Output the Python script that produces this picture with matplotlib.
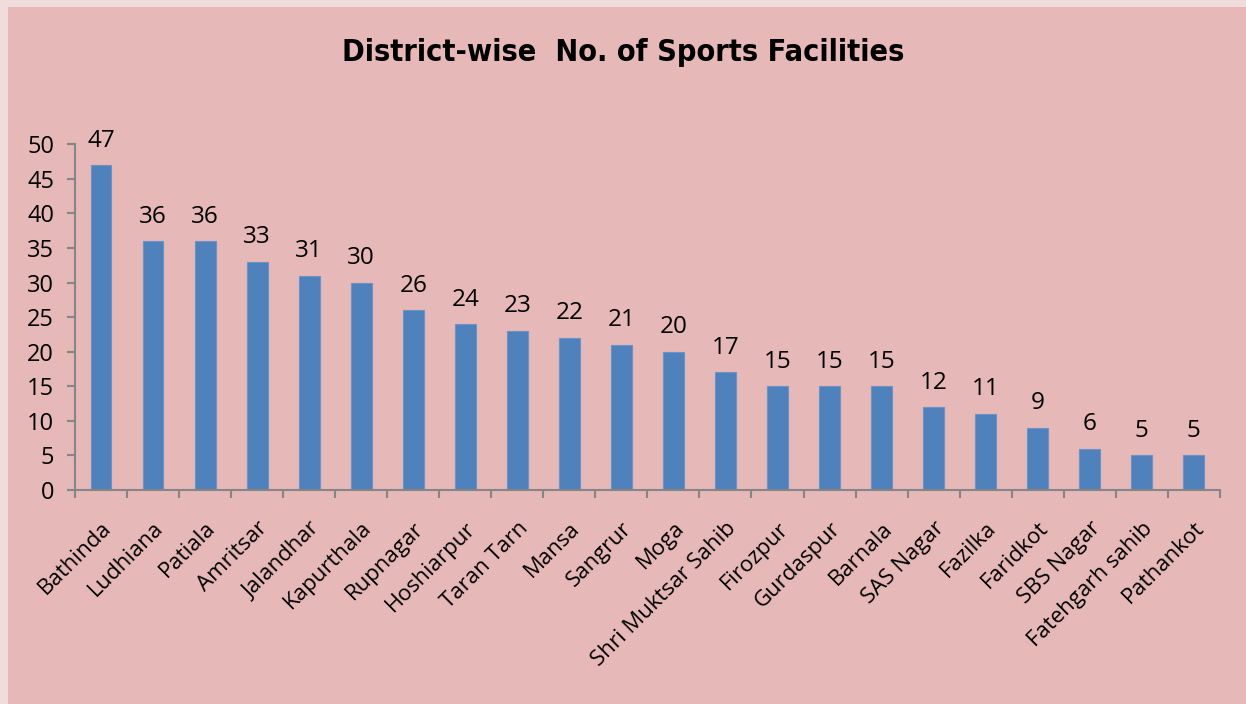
import matplotlib.pyplot as plt
import matplotlib.patches as mpatches

districts = ["Bathinda", "Ludhiana", "Patiala", "Amritsar", "Jalandhar", "Kapurthala",
             "Rupnagar", "Hoshiarpur", "Taran Tarn", "Mansa", "Sangrur", "Moga",
             "Shri Muktsar Sahib", "Firozpur", "Gurdaspur", "Barnala", "SAS Nagar",
             "Fazilka", "Faridkot", "SBS Nagar", "Fatehgarh sahib", "Pathankot"]
facilities = [47, 36, 36, 33, 31, 30, 26, 24, 23, 22, 21, 20, 17, 15, 15, 15, 12, 11, 9, 6, 5, 5]
y_ticks = [0, 5, 10, 15, 20, 25, 30, 35, 40, 45, 50]

plt.rcParams['font.family'] = ['Open Sans', 'DejaVu Sans']

fig = plt.figure(figsize=(12.46, 7.04), dpi=100)
fig.patch.set_facecolor('#f0dcdc')
# inner panel (light border shows on left/top only)
fig.patches.append(mpatches.Rectangle((8 / 1246, 0), 1, 1 - 7 / 704, transform=fig.transFigure,
                                      facecolor='#e6b8b8', edgecolor='none', zorder=-5))

ax = fig.add_axes([0.0602, 0.304, 0.9188, 0.491])
ax.set_facecolor('none')

x = list(range(len(districts)))
bars = ax.bar(x, facilities, width=0.4, color='#4f81bd', edgecolor='#6a93c6', linewidth=0.8)
for xi, v in zip(x, facilities):
    ax.annotate(str(v), (xi, v), xytext=(0, 9), textcoords='offset points',
                ha='center', va='bottom', fontsize=17.5)

ax.set_xlim(-0.5, len(districts) - 0.5)
ax.set_ylim(0, 50)
ax.set_yticks(y_ticks)
ax.tick_params(axis='y', labelsize=17, length=6, width=1.5, color='#868686', pad=9)

ax.set_xticks([i - 0.5 for i in range(len(districts) + 1)], minor=False)
ax.set_xticklabels([])
ax.set_xticks(x, minor=True)
ax.set_xticklabels(districts, minor=True, rotation=45, ha='right', rotation_mode='anchor', fontsize=16)
ax.tick_params(axis='x', which='major', length=6, width=1.5, color='#868686')
ax.tick_params(axis='x', which='minor', length=0, pad=20)

for s in ['top', 'right']:
    ax.spines[s].set_visible(False)
for s in ['left', 'bottom']:
    ax.spines[s].set_color('#868686')
    ax.spines[s].set_linewidth(1.5)

fig.text(0.5, 0.926, "District-wise  No. of Sports Facilities", ha='center', va='center',
         fontsize=22, fontweight='bold', fontstretch='condensed', family=['DejaVu Sans'])

fig.savefig('out.png', dpi=100, facecolor=fig.get_facecolor())
